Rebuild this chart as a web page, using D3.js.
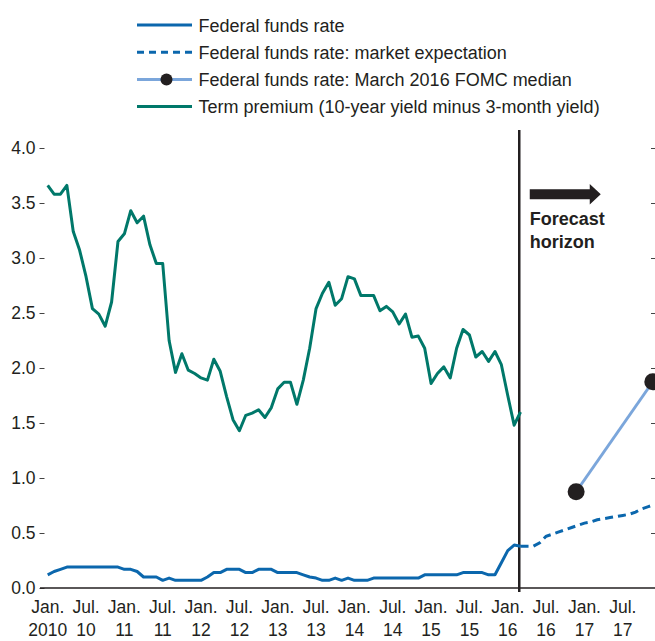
<!DOCTYPE html>
<html>
<head>
<meta charset="utf-8">
<script src="https://cdn.jsdelivr.net/npm/d3@7"></script>
<style>
  body { margin: 0; background: #fff; }
  svg { display: block; }
  text { font-family: "Liberation Sans Narrow", "Arial Narrow", sans-serif; fill: #231f20; }
</style>
</head>
<body>
<div id="chart"></div>
<script>
// monthly values, Jan 2010 = month 0
const fedFunds = [
  0.12, 0.15, 0.17, 0.19, 0.19, 0.19, 0.19, 0.19, 0.19, 0.19,
  0.19, 0.19, 0.17, 0.17, 0.15, 0.10, 0.10, 0.10, 0.07, 0.09,
  0.07, 0.07, 0.07, 0.07, 0.07, 0.10, 0.14, 0.14, 0.17, 0.17,
  0.17, 0.14, 0.14, 0.17, 0.17, 0.17, 0.14, 0.14, 0.14, 0.14,
  0.12, 0.10, 0.09, 0.07, 0.07, 0.09, 0.07, 0.09, 0.07, 0.07,
  0.07, 0.09, 0.09, 0.09, 0.09, 0.09, 0.09, 0.09, 0.09, 0.12,
  0.12, 0.12, 0.12, 0.12, 0.12, 0.14, 0.14, 0.14, 0.14, 0.12,
  0.12, 0.23, 0.34, 0.39, 0.38
];
const termPremium = [
  3.66, 3.58, 3.58, 3.66, 3.24, 3.07, 2.83, 2.54, 2.49, 2.38,
  2.60, 3.15, 3.22, 3.43, 3.32, 3.38, 3.12, 2.95, 2.95, 2.25,
  1.96, 2.13, 1.98, 1.95, 1.91, 1.89, 2.08, 1.97, 1.74, 1.53,
  1.43, 1.57, 1.59, 1.62, 1.55, 1.64, 1.81, 1.87, 1.87, 1.67,
  1.89, 2.18, 2.54, 2.68, 2.78, 2.57, 2.63, 2.83, 2.81, 2.66,
  2.66, 2.66, 2.52, 2.56, 2.51, 2.40, 2.49, 2.28, 2.29, 2.18,
  1.86, 1.95, 2.01, 1.91, 2.18, 2.35, 2.30, 2.10, 2.15, 2.06,
  2.15, 2.03, 1.75, 1.48, 1.60
];
// market expectation starts at month 74 (Mar 2016)
const expectStart = 74;
const marketExpect = [
  0.38, 0.38, 0.38, 0.41, 0.47, 0.49, 0.51, 0.53, 0.55, 0.57,
  0.59, 0.60, 0.62, 0.63, 0.64, 0.65, 0.66, 0.67, 0.69, 0.72,
  0.74, 0.76
];
const fomcMonths = [82.7, 94.7];
const fomcMedian = [0.875, 1.875];
const forecastStart = 73.8;

const yTicks = [0, 0.5, 1, 1.5, 2, 2.5, 3, 3.5, 4];
const xTickMonths = [0, 6, 12, 18, 24, 30, 36, 42, 48, 54, 60, 66, 72, 78, 84, 90];
const xTickTop = ["Jan.", "Jul.", "Jan.", "Jul.", "Jan.", "Jul.", "Jan.", "Jul.",
  "Jan.", "Jul.", "Jan.", "Jul.", "Jan.", "Jul.", "Jan.", "Jul."];
const xTickBottom = ["2010", "10", "11", "11", "12", "12", "13", "13",
  "14", "14", "15", "15", "16", "16", "17", "17"];

const legendItems = [
  "Federal funds rate",
  "Federal funds rate: market expectation",
  "Federal funds rate: March 2016 FOMC median",
  "Term premium (10-year yield minus 3-month yield)"
];

var W = 655, H = 641;
var fedColor = "#0b67ad", termColor = "#00786a", fomcColor = "#7ba6db", ink = "#231f20";

var svg = d3.select("#chart").append("svg").attr("width", W).attr("height", H);

var x = d3.scaleLinear().domain([0, 96]).range([47.7, 661.1]);
var y = d3.scaleLinear().domain([0, 4]).range([588, 148]);

// left axis
svg.append("g")
  .attr("transform", "translate(44.5,0)")
  .call(d3.axisLeft(y).tickValues(yTicks).tickSize(5).tickPadding(4).tickFormat(d3.format(".1f")))
  .call((g) => g.select(".domain").remove())
  .call((g) => g.selectAll("line").attr("stroke", "#444"))
  .call((g) => g.selectAll("text").attr("font-size", 17.5)
    .attr("font-family", "'Liberation Sans Narrow', 'Arial Narrow', sans-serif").attr("fill", ink));

// right ticks, no labels
svg.append("g")
  .attr("transform", "translate(655,0)")
  .call(d3.axisLeft(y).tickValues(yTicks.slice(1)).tickSize(4).tickFormat(""))
  .call((g) => g.select(".domain").remove())
  .call((g) => g.selectAll("line").attr("stroke", "#444"));

// baseline
svg.append("line")
  .attr("x1", 40).attr("x2", W).attr("y1", y(0)).attr("y2", y(0))
  .attr("stroke", ink).attr("stroke-width", 1.3);

// x labels in two rows
var xl = svg.append("g").selectAll("g").data(xTickMonths).enter().append("g")
  .attr("transform", (d) => "translate(" + x(d) + ",0)");
xl.append("text").attr("y", 613.3).attr("text-anchor", "middle").attr("font-size", 17.5)
  .text((d, i) => xTickTop[i]);
xl.append("text").attr("y", 635.7).attr("text-anchor", "middle").attr("font-size", 17.5)
  .text((d, i) => xTickBottom[i]);

// forecast horizon line
svg.append("line")
  .attr("x1", x(forecastStart)).attr("x2", x(forecastStart))
  .attr("y1", 130).attr("y2", 592)
  .attr("stroke", ink).attr("stroke-width", 2.5);

var fx = x(forecastStart);
svg.append("path")
  .attr("d", "M" + (fx + 10.5) + ",189.3 H" + (fx + 70.5) + " V184 L" + (fx + 81.5) + ",194.3 L" +
    (fx + 70.5) + ",204.6 V199.3 H" + (fx + 10.5) + " Z")
  .attr("fill", ink);
svg.append("text").attr("x", fx + 10.5).attr("y", 225).attr("font-size", 18)
  .attr("font-weight", "bold").text("Forecast");
svg.append("text").attr("x", fx + 10.5).attr("y", 248).attr("font-size", 18)
  .attr("font-weight", "bold").text("horizon");

var line = d3.line().x((d) => x(d[0])).y((d) => y(d[1]));

// term premium
svg.append("path")
  .datum(termPremium.map((v, i) => [i, v]))
  .attr("fill", "none").attr("stroke", termColor).attr("stroke-width", 3)
  .attr("stroke-linejoin", "round").attr("d", line);

// federal funds rate
svg.append("path")
  .datum(fedFunds.map((v, i) => [i, v]))
  .attr("fill", "none").attr("stroke", fedColor).attr("stroke-width", 3)
  .attr("stroke-linejoin", "round").attr("d", line);

// market expectation
svg.append("path")
  .datum(marketExpect.map((v, i) => [expectStart + i, v]))
  .attr("fill", "none").attr("stroke", fedColor).attr("stroke-width", 3)
  .attr("stroke-dasharray", "8,5").attr("d", line);

// FOMC median
var fomc = fomcMonths.map((m, i) => [m, fomcMedian[i]]);
svg.append("path")
  .datum(fomc)
  .attr("fill", "none").attr("stroke", fomcColor).attr("stroke-width", 3).attr("d", line);
svg.selectAll("circle.fomc").data(fomc).enter().append("circle")
  .attr("class", "fomc")
  .attr("cx", (d) => x(d[0])).attr("cy", (d) => y(d[1])).attr("r", 8.5)
  .attr("fill", ink);

// legend
var lg = svg.append("g").selectAll("g").data(legendItems).enter().append("g")
  .attr("transform", (d, i) => "translate(0," + (25 + i * 27.2) + ")");
lg.append("line")
  .attr("x1", 137).attr("x2", 192).attr("y1", 0).attr("y2", 0)
  .attr("stroke-width", 3)
  .attr("stroke", (d, i) => [fedColor, fedColor, fomcColor, termColor][i])
  .attr("stroke-dasharray", (d, i) => (i == 1 ? "7,5" : null));
lg.filter((d, i) => i == 2).append("circle")
  .attr("cx", 166.5).attr("cy", 0).attr("r", 6).attr("fill", ink);
lg.append("text").attr("x", 198.5).attr("y", 6.6).attr("font-size", 18)
  .text((d) => d);
</script>
</body>
</html>
